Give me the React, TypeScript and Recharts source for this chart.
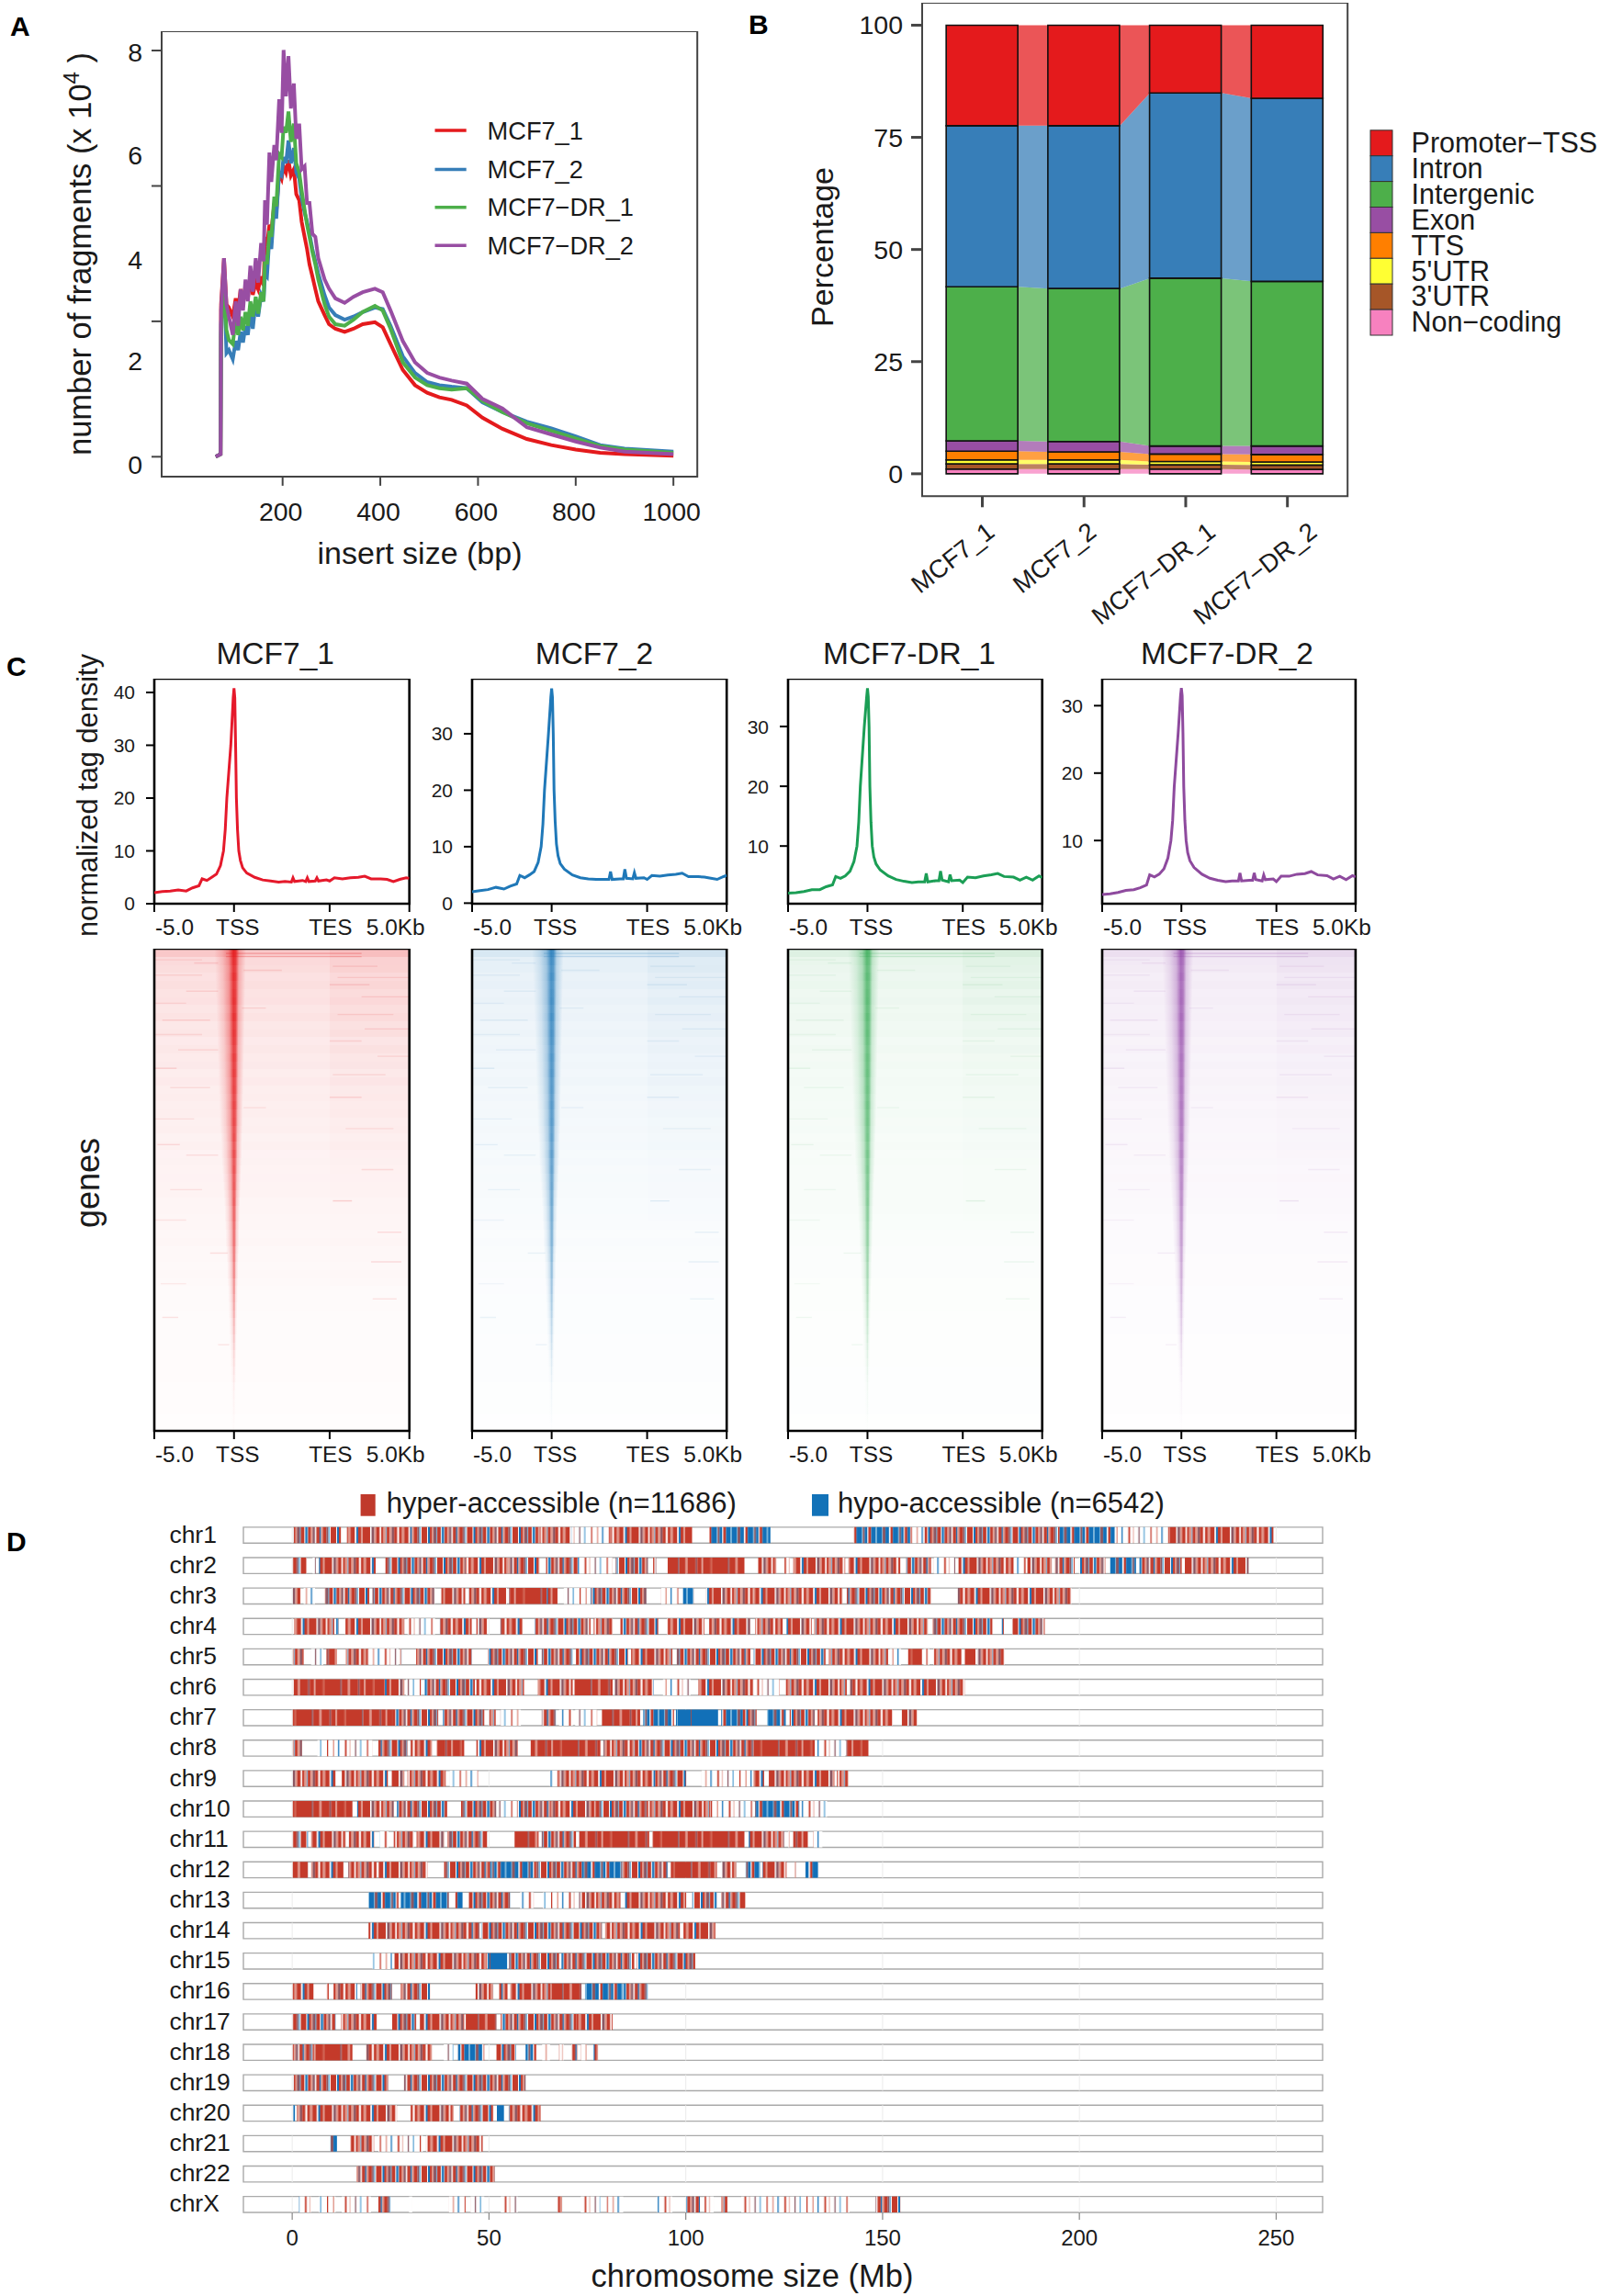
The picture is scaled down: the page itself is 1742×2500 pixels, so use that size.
import React from 'react';
import { ComposedChart, Line, Bar, Area, XAxis, YAxis, ReferenceArea } from 'recharts';

const FONT = '"Liberation Sans", Arial, Helvetica, sans-serif';
const INK = '#1a1a1a';

/* ---------- Panel A ---------- */
const insertSize = [63,73,74,80,85,90,98,104,109,114,119,124,129,134,139,145,150,156,161,164,168,173,177,183,187,193,198,202,207,212,217,223,228,234,239,245,250,255,261,267,273,286,295,308,327,345,364,389,405,421,446,471,496,521,546,577,609,650,700,750,800,850,900,1000];
const fragRed = [0,0.05,3.0,3.91,3.0,2.94,2.76,3.12,2.88,3.3,3.0,3.37,3.12,3.55,3.19,3.43,3.3,3.55,3.37,4.33,4.15,4.57,4.45,4.99,4.81,5.6,5.48,5.72,5.6,5.84,5.54,5.66,5.17,5.05,4.63,4.33,4.09,3.79,3.55,3.3,3.06,2.79,2.61,2.52,2.46,2.52,2.61,2.65,2.55,2.22,1.71,1.41,1.26,1.17,1.12,1.01,0.77,0.55,0.35,0.23,0.14,0.08,0.05,0.02];
const fragBlue = [0,0.05,2.6,3.6,2.04,2.1,1.92,2.28,2.1,2.46,2.25,2.58,2.4,2.88,2.52,3.06,2.76,3.18,3.06,3.6,3.55,4.33,4.09,4.93,4.69,5.6,5.54,5.9,5.78,6.23,5.78,6.08,5.6,5.48,5.1,4.81,4.63,4.39,4.09,3.85,3.61,3.18,2.94,2.79,2.7,2.76,2.85,2.94,2.91,2.58,1.98,1.65,1.47,1.41,1.38,1.35,1.07,0.88,0.69,0.56,0.4,0.23,0.16,0.1];
const fragGreen = [0,0.05,2.4,3.5,2.5,2.3,2.22,2.7,2.4,2.76,2.49,2.85,2.58,3.06,2.76,3.15,2.82,3.24,3.06,3.97,3.79,4.45,4.33,5.12,4.93,5.96,5.9,6.5,6.38,6.8,6.2,6.56,5.78,5.6,5.24,4.87,4.57,4.33,4.03,3.79,3.49,3.0,2.76,2.61,2.58,2.7,2.85,2.97,2.88,2.52,1.86,1.56,1.41,1.35,1.32,1.35,1.1,0.88,0.66,0.51,0.36,0.21,0.14,0.08];
const fragPurple = [0,0.05,2.88,3.91,3.0,2.76,2.4,3.06,2.58,3.3,2.88,3.49,3.06,3.76,3.25,3.91,3.43,4.21,3.85,5.05,4.57,5.99,5.41,6.14,5.84,7.04,6.38,8.01,7.1,7.89,6.86,7.35,6.26,6.56,5.66,5.72,5.0,5.0,4.39,4.33,3.91,3.49,3.31,3.12,3.03,3.15,3.24,3.31,3.24,2.88,2.28,1.86,1.65,1.56,1.5,1.44,1.14,0.95,0.58,0.44,0.3,0.18,0.1,0.05];
const sampleNames = ['MCF7_1', 'MCF7_2', 'MCF7\u2212DR_1', 'MCF7\u2212DR_2'];
const set1Colors = ['#E41A1C', '#377EB8', '#4DAF4A', '#984EA3'];
const fragSeries = [fragRed, fragBlue, fragGreen, fragPurple];
const fragRows = insertSize.map((bp, i) => ({ bp, s0: fragRed[i], s1: fragBlue[i], s2: fragGreen[i], s3: fragPurple[i] }));
const fragTickMarks = [0, 2.667, 5.333, 8];
const fragTickLabels: Record<string, string> = { '-0.15': '0', '1.88': '2', '3.87': '4', '5.94': '6', '7.97': '8' };

/* ---------- Panel B ---------- */
const regionNames = ['Promoter\u2212TSS', 'Intron', 'Intergenic', 'Exon', 'TTS', "5'UTR", "3'UTR", 'Non\u2212coding'];
const regionColors = ['#E41A1C', '#377EB8', '#4DAF4A', '#984EA3', '#FF7F00', '#FFFF33', '#A65628', '#F781BF'];
const promoter = [22.4, 22.4, 15.1, 16.3];
const intron = [35.9, 36.3, 41.3, 40.8];
const intergenic = [34.35, 34.1, 37.4, 36.7];
const exon = [2.3, 2.3, 1.8, 1.9];
const tts = [1.95, 1.8, 1.65, 1.65];
const utr5 = [0.9, 0.9, 0.75, 0.7];
const utr3 = [1.14, 1.14, 0.94, 0.98];
const nonCoding = [1.06, 1.06, 1.06, 0.97];
const regionValues = [promoter, intron, intergenic, exon, tts, utr5, utr3, nonCoding];
const BAR_HALF = 0.3528;
const ribbonRows: any[] = [];
sampleNames.forEach((_, s) => {
  [-BAR_HALF, BAR_HALF].forEach((d) => {
    const row: any = { pos: s + 1 + d };
    regionValues.forEach((vals, r) => { row['a' + r] = vals[s]; });
    ribbonRows.push(row);
  });
});
const barRows = sampleNames.map((sample, s) => {
  const row: any = { sample };
  regionValues.forEach((vals, r) => { row['b' + r] = vals[s]; });
  return row;
});

/* ---------- Panel C ---------- */
const kb = [-5,-4.5,-4,-3.5,-3,-2.6,-2.2,-2,-1.7,-1.4,-1.1,-0.85,-0.66,-0.55,-0.45,-0.2,-0.05,0,0.05,0.1,0.15,0.22,0.3,0.4,0.54,0.8,1.3,1.8,2.3,2.8,3.2,3.6,3.7,3.8,4.3,4.5,4.6,4.7,5.1,5.2,5.3,5.8,6,6.3,6.8,7.3,7.8,8.2,8.6,9.2,9.6,10,10.4,10.8,11];
const densityRed = [2.1,2.3,2.4,2.6,2.4,3.0,3.4,4.7,4.4,5.0,5.6,7.2,10,14,20,30,39,40.8,39,30,20,14,10,8.2,6.8,5.8,5.0,4.5,4.3,4.1,4.2,4.1,4.9,4.2,4.4,4.2,4.9,4.2,4.3,4.9,4.3,4.5,4.3,4.9,4.7,4.9,5,5.2,4.7,4.7,4.6,4.2,4.6,4.9,4.8];
const densityBlue = [2.0,2.2,2.4,2.8,2.5,3.0,3.4,4.9,4.5,5.0,5.6,7.2,10,14,20,30,36.5,38,36.5,30,20,14.5,10.5,8.4,7,6,5,4.5,4.3,4.2,4.2,4.2,5.6,4.2,4.3,4.3,6.0,4.4,4.3,5.4,4.4,4.5,4.2,4.9,4.8,5.0,5.1,5.3,4.7,4.7,4.6,4.4,4.2,4.7,4.9];
const densityGreen = [2.1,2.2,2.4,2.7,2.7,3.2,3.5,4.9,4.6,5.0,5.8,7.4,10,14,20,30,35,36.4,35,30,20,14,10,8.2,7,6,5,4.4,4.1,3.9,4.0,4.0,5.4,4.0,4.2,4.2,5.8,4.3,4.0,5.2,4.2,4.3,3.9,4.8,4.7,5.0,5.2,5.4,4.9,4.8,4.3,4.8,4.3,5.0,4.7];
const densityPurple = [2.0,2.1,2.3,2.6,2.7,3.0,3.4,4.9,4.6,5.0,5.8,7.4,10,13,18,26,31.5,32.6,31.5,26,18,13,10,8.2,7,6,5,4.4,4.1,3.9,4.0,4.0,5.2,4.0,4.1,4.1,5.2,4.2,4.0,4.9,4.2,4.3,3.9,4.7,4.7,5.0,5.1,5.4,4.9,4.8,4.3,4.7,4.2,4.8,4.6];
const kbTicks = [-5, 0, 6, 11];
const kbTickLabels: Record<string, string> = { '-5': '-5.0', '0': 'TSS', '6': 'TES', '11': '5.0Kb' };
const kbTickShift: Record<string, number> = { '-5': 22, '0': 4, '6': 1, '11': -15 };
const panelTitles = ['MCF7_1', 'MCF7_2', 'MCF7-DR_1', 'MCF7-DR_2'];

const densityPanels = [
  { values: densityRed, color: '#E5192B', heat: '#E41A1C', scale: 1, bgScale: 1, left: 167.9, right: 445.6, domain: [0, 42.6], ticks: [0, 10, 20, 30, 40], titleX: 299.7 },
  { values: densityBlue, color: '#1F78B8', heat: '#1F78B8', scale: 0.92, bgScale: 0.72, left: 513.6, right: 790.8, domain: [-0.1, 39.75], ticks: [0, 10, 20, 30], titleX: 647 },
  { values: densityGreen, color: '#1B9E55', heat: '#2FA84F', scale: 0.85, bgScale: 0.66, left: 858, right: 1134.7, domain: [0.35, 38], ticks: [10, 20, 30], titleX: 990 },
  { values: densityPurple, color: '#8E4A9E', heat: '#8E3FA5', scale: 0.85, bgScale: 0.7, left: 1199.5, right: 1475.4, domain: [0.63, 34], ticks: [10, 20, 30], titleX: 1336 },
];

const heatBackground = [.24,.16,.15,.13,.14,.12,.13,.11,.12,.1,.11,.09,.1,.085,.095,.08,.09,.075,.08,.07,.075,.065,.07,.06,.065,.055,.06,.05,.055,.05,.05,.045,.045,.04,.04,.035,.038,.032,.03,.028,.03,.026,.025,.024,.022,.02,.02,.02,.018,.018,.016,.016,.014,.014,.012,.012,.01,.01,.008,.008];
const heatTesBlock = [.05,.045,.05,.04,.045,.035,.045,.035,.04,.03,.035,.025,.03,.025,.025,.02,.025,.02,.015,.015,.014,.012,.012,.01,.01,.01,.008,.008,.005,.005,.004,.004,.003,.003,.002,.002,.002,.002,.002,.002,.002,.002,.001,.001,.001,.001,.001,.001,.001,.001,0,0,0,0,0,0,0,0,0,0];
const heatTssPeak = [.95,.9,.85,.9,.85,.88,.9,.85,.9,.85,.88,.85,.8,.85,.82,.85,.8,.82,.78,.82,.78,.8,.75,.78,.72,.78,.72,.75,.7,.72,.68,.7,.65,.65,.62,.6,.6,.55,.55,.5,.5,.45,.45,.4,.38,.34,.3,.27,.24,.2,.17,.14,.12,.09,.07,.05,.04,.03,.02,.01];
const heatTssWidth = [2,1.95,1.9,1.9,1.85,1.85,1.8,1.8,1.75,1.75,1.7,1.7,1.65,1.65,1.6,1.6,1.55,1.55,1.5,1.5,1.45,1.45,1.4,1.35,1.3,1.3,1.25,1.2,1.15,1.1,1.05,1,.95,.95,.9,.85,.85,.8,.75,.7,.7,.65,.6,.6,.55,.55,.5,.5,.45,.45,.4,.4,.35,.35,.3,.3,.3,.3,.3,.3];
// thin horizontal streaks in the matrix: row, from kb, to kb, strength
const heatStreaks: [number, number, number, number][] = [
  [0.5,-0.5,8,.2],[0.9,-0.5,8,.16],[1.3,-5,-2,.07],[1.7,-2.5,-1,.09],[2.1,6.2,9,.09],[2.6,0.6,3,.08],[3.2,-5,-2,.07],[3.5,6.5,11,.08],[4.4,6,8.5,.09],[5.2,-3,-1,.08],
  [5.9,8,11,.09],[6.7,-5,-3,.07],[7.3,0.5,2,.08],[8.1,6.5,10,.08],[8.8,-4.5,-1.5,.08],[9.9,8.2,11,.09],[10.6,-5,-2,.07],[11.4,6,8,.08],[12.5,-3.5,-1,.08],[13.3,9,11,.08],
  [14.8,-5,-3.6,.1],[15.6,6.2,9.5,.07],[17.2,-4,-1.5,.07],[18.4,6,8,.09],[19.7,0.6,2,.07],[21.1,-5,-2.5,.07],[22.3,7,10,.07],[24.3,-4.8,-3.4,.09],[25.6,-3,-1,.07],[27.4,8,10,.08],
  [29.9,-4,-2,.07],[31.3,6.2,7.4,.13],[33.7,-5,-3,.06],[35.2,9,10.5,.09],[37.8,-1.5,-0.4,.08],[38.9,8.6,10.5,.09],[41.6,-4.6,-3,.05],[43.5,8.7,10.2,.08],[45.8,-4.5,-3.5,.08],[49.2,-1,-0.3,.07],
];

/* ---------- Panel D ---------- */
type Run = [number, number, string];
const chromosomes = ['chr1','chr2','chr3','chr4','chr5','chr6','chr7','chr8','chr9','chr10','chr11','chr12','chr13','chr14','chr15','chr16','chr17','chr18','chr19','chr20','chr21','chr22','chrX'];
const chr1Runs: Run[] = [[0.4,12.4,'m'],[13.9,30,'r'],[30,44,'m'],[44,63,'m'],[63,71,'r'],[71,81,'s'],[81,101.6,'r'],[106,121.5,'b'],[142.6,157,'b'],[157,160.7,'s'],[160.7,195,'m'],[195,209,'b'],[209,223,'s'],[223,249.3,'r']];
const chr2Runs: Run[] = [[0.15,3.7,'m'],[5.2,6,'s'],[6.8,21.2,'r'],[23.7,34.8,'m'],[34.8,44.1,'m'],[44.1,55,'r'],[55,62.8,'m'],[64.5,72.5,'m'],[72.5,81.4,'s'],[82.2,90.4,'m'],[91.7,92.5,'r'],[95.4,114.9,'R'],[118.4,123,'r'],[125,126.5,'s'],[127.3,140.5,'r'],[141.3,154.5,'r'],[156,162.3,'m'],[163,168.5,'s'],[169.3,183.3,'r'],[183.3,186.4,'s'],[186.8,193,'r'],[193.8,198.8,'m'],[200,206.6,'m'],[207.8,214.4,'b'],[215.2,226,'m'],[226.8,243,'r']];
const chr3Runs: Run[] = [[0.15,2.1,'r'],[2.9,5.8,'s'],[8.3,19.6,'m'],[20.4,36.3,'m'],[37.9,44,'r'],[44.9,54.6,'r'],[55.1,64.7,'R'],[64.7,67.4,'r'],[69,76,'s'],[76,90,'m'],[93.7,98.1,'s'],[99.3,102,'b'],[105.1,117.2,'r'],[117.2,139.8,'r'],[140.9,162.3,'m'],[169.1,198,'r']];
const chr4Runs: Run[] = [[0.5,10.7,'r'],[11.2,11.8,'b'],[13.4,28.5,'r'],[29.3,36.3,'s'],[37.5,45.6,'r'],[46.8,49.5,'r'],[52.9,58.5,'r'],[61.6,75.8,'m'],[76.6,81.4,'r'],[83.4,93,'m'],[95.2,104.7,'r'],[105.9,116.4,'r'],[117.6,124.6,'r'],[125.6,132,'r'],[132.6,161.5,'r'],[162.7,177.9,'m'],[180.3,180.8,'r'],[182.9,191.2,'m']];
const chr5Runs: Run[] = [[0.15,2.9,'r'],[4.8,7.9,'s'],[8.7,11.4,'R'],[13.6,19.2,'r'],[19.2,27,'s'],[27.4,27.8,'r'],[31.5,45.6,'m'],[49.7,62.4,'m'],[63.4,71.3,'m'],[72.1,85.3,'m'],[86.1,96.6,'r'],[97.7,116.4,'m'],[117.2,135.5,'m'],[136.3,151.4,'r'],[151.8,154.7,'s'],[156.5,160,'R'],[160.4,161.9,'s'],[162.9,170.1,'r'],[170.9,173.6,'R'],[174,181,'r']];
const chr6Runs: Run[] = [[0.4,23.5,'R'],[23.5,28.5,'r'],[28.9,32.8,'s'],[33.6,46.4,'m'],[46.8,58.9,'r'],[62.4,71.3,'r'],[71.7,81.4,'R'],[81.8,91.9,'r'],[94.2,101.2,'s'],[103.2,117.2,'r'],[117.2,123.8,'s'],[125.4,140.9,'r'],[141.7,159.6,'r'],[160,170.9,'r']];
const chr7Runs: Run[] = [[0.15,25.4,'R'],[25.4,37.1,'m'],[38.3,48.8,'m'],[50.1,51.7,'r'],[52.9,58.1,'s'],[63.4,67,'m'],[67.8,71.3,'s'],[71.9,77.5,'s'],[78.7,88.4,'R'],[89.2,97,'b'],[97.5,108.2,'B'],[109,114.5,'b'],[114.5,118,'m'],[120.7,125.4,'b'],[126.4,132.8,'m'],[133.5,152.6,'r'],[154.9,158.8,'r']];
const chr8Runs: Run[] = [[0.15,2.5,'r'],[6.4,20.4,'s'],[21.9,29.3,'m'],[30.1,35.5,'r'],[36.7,43.7,'R'],[46.8,57.3,'r'],[60.6,78.3,'R'],[79.1,86.9,'r'],[86.9,117.2,'m'],[117.2,132.8,'R'],[132.8,140.5,'s'],[140.8,146.4,'R']];
const chr9Runs: Run[] = [[0.15,11,'r'],[12.6,24.3,'r'],[25.3,28.5,'r'],[29.3,39,'r'],[40,47.2,'s'],[65.5,67.8,'s'],[67.8,92.3,'r'],[92.3,100.1,'m'],[104,117.2,'s'],[117.2,119.9,'r'],[121.1,137.8,'r'],[138.4,141.3,'r']];
const chr10Runs: Run[] = [[0.15,15.3,'R'],[16.5,25.8,'r'],[26.6,39.4,'m'],[42.9,51.9,'m'],[51.9,57.3,'s'],[57.3,65.9,'m'],[65.9,76.8,'r'],[76.8,90,'m'],[90,106.3,'r'],[106.3,117.2,'s'],[117.6,128.9,'b'],[128.9,135.9,'s']];
const chr11Runs: Run[] = [[0.15,4,'m'],[4.8,13.6,'r'],[14.4,20.8,'r'],[22.2,24.5,'s'],[25.8,30.9,'r'],[31.6,38.6,'r'],[39.4,49.5,'m'],[56.5,62.6,'R'],[63.4,72.1,'m'],[72.9,90.7,'R'],[91.5,114.9,'R'],[116,125,'r'],[126,126.5,'s'],[127.3,131,'R'],[132.4,134.7,'s']];
const chr12Runs: Run[] = [[0.15,4,'R'],[4.8,13,'r'],[14.2,21.5,'r'],[21.9,34.4,'r'],[38.6,50.3,'m'],[50.3,62,'b'],[62,73.6,'m'],[73.6,83.7,'b'],[83.7,95.4,'m'],[96.2,107.9,'R'],[109,112.9,'r'],[115.2,118.9,'b'],[119.5,125.6,'r'],[127.7,128,'r'],[130.4,133.7,'b']];
const chr13Runs: Run[] = [[19.4,27,'b'],[27.6,39.8,'b'],[41.4,43.3,'b'],[44.9,55.4,'m'],[57.9,61.4,'s'],[63.7,73.6,'s'],[73.6,83.4,'r'],[84.5,100.1,'r'],[101.6,107.9,'m'],[109,115.2,'m']];
const chr14Runs: Run[] = [[19.4,44.5,'r'],[44.5,47.6,'m'],[48,78.7,'m'],[79.5,98.5,'r'],[99.3,107.5,'r']];
const chr15Runs: Run[] = [[20.4,25.4,'s'],[26,49.5,'r'],[49.7,54.6,'B'],[55.1,67.8,'m'],[68.4,86.9,'m'],[87.6,102.4,'m']];
const chr16Runs: Run[] = [[0.15,5.4,'r'],[8.7,9.3,'r'],[10.5,16.5,'r'],[17.3,25.4,'m'],[27.6,35,'m'],[46.6,51.1,'r'],[52.6,54.7,'m'],[55.4,65.9,'r'],[65.9,73.5,'R'],[74.4,84.1,'b'],[84.1,90.4,'m']];
const chr17Runs: Run[] = [[0.15,11,'m'],[12.4,21.5,'r'],[25.4,31.5,'m'],[32.4,43.7,'r'],[44.1,51.9,'R'],[53,72.1,'m'],[72.1,81.4,'r']];
const chr18Runs: Run[] = [[0.15,5.2,'m'],[5.2,15.3,'R'],[18.8,35.5,'r'],[38.5,41,'s'],[42.1,48.8,'b'],[51.9,56.9,'m'],[59.3,62,'b'],[63.5,65.5,'s'],[67.8,69,'s'],[70.9,72.5,'m'],[73.3,74.8,'s'],[76.6,77.7,'m']];
const chr19Runs: Run[] = [[0.4,24.4,'m'],[28.4,59.3,'m']];
const chr20Runs: Run[] = [[0.3,0.7,'b'],[1.2,26.6,'r'],[30.1,41,'r'],[42.5,51.1,'m'],[52,53.8,'B'],[55,63.1,'r']];
const chr21Runs: Run[] = [[9.7,11.4,'b'],[14.8,20.8,'r'],[21.9,33.2,'s'],[34,48.4,'r']];
const chr22Runs: Run[] = [[16.3,48.4,'m'],[48.4,51.5,'m']];
const chrXRuns: Run[] = [[1.7,4.8,'s'],[6.8,11,'s'],[12.6,20,'s'],[21.9,25,'m'],[29.7,30.5,'s'],[39.8,44.1,'s'],[45.3,48.8,'s'],[53,57.3,'s'],[67.4,68.6,'r'],[73.3,78.3,'s'],[79.9,84.1,'s'],[92.7,96.6,'s'],[100.1,103.6,'m'],[104.7,107.1,'s'],[109,110.6,'r'],[114.1,141.6,'s'],[148.2,154.5,'m']];
const allRuns = [chr1Runs,chr2Runs,chr3Runs,chr4Runs,chr5Runs,chr6Runs,chr7Runs,chr8Runs,chr9Runs,chr10Runs,chr11Runs,chr12Runs,chr13Runs,chr14Runs,chr15Runs,chr16Runs,chr17Runs,chr18Runs,chr19Runs,chr20Runs,chr21Runs,chr22Runs,chrXRuns];
const chrEdge = [-12.4, 261.8];
const mbTicks = [0, 50, 100, 150, 200, 250];
const rowIndex = chromosomes.map((_, i) => i + 1);

const C = '#C43A2A', D = '#8A5560', P = '#E0988C', W = '#FFFFFF', B = '#1270B8', L = '#6FAFD8';
const stripePatterns: Record<string, [number, string][]> = {
  R: [[11,C],[1.5,D],[7,C],[2,P],[9,C],[1.5,D],[5,C],[1.5,P],[8,C],[2,'#D0604F'],[6,C]],
  r: [[4,C],[1.5,W],[3,D],[2,P],[4,C],[1.5,W],[2.5,C],[2.5,P],[1,L],[3,C],[2.5,P],[2.5,D],[3.5,C],[2,W],[3,C],[2.5,P],[5,C],[1.5,W],[2,B],[3,C],[2,P],[4,C]],
  m: [[3,C],[1,W],[2,B],[2.5,C],[1.5,P],[3,D],[1,L],[4,C],[1,W],[2,B],[1,L],[3,C],[2,P],[2.5,D],[1.5,W],[3.5,C],[1.5,B],[2,P],[4,C],[2,D],[1.5,L],[1,W],[3,C]],
  b: [[5,B],[1,L],[3,D],[4,B],[1.5,W],[2.5,C],[6,B],[1,L],[2,D],[3,B],[1,W],[3,C],[5,B],[1.5,L]],
  B: [[22,B],[1,L],[14,B],[1,D],[12,B]],
  s: [[1.5,C],[5,W],[1.5,P],[4,W],[1.5,B],[6,W],[2,C],[3,W],[1,P],[5,W],[1.5,D],[4,W],[1.5,L],[6,W]],
};
const patternShifts = [0, 17, 31];

/* ---------- helpers ---------- */
function place(l: number, t: number, r: number, b: number, pl: number, pt: number, pr: number, pb: number) {
  return { left: l - pl, top: t - pt, width: r - l + pl + pr, height: b - t + pt + pb, pl, pb, pt, pr };
}

function ChartAt({ p, data, children }: any) {
  return (
    <div style={{ position: 'absolute', left: p.left, top: p.top, width: p.width, height: p.height }}>
      <ComposedChart width={p.width} height={p.height} data={data} margin={{ top: p.pt, right: p.pr, bottom: 0, left: 0 }}>
        {children}
      </ComposedChart>
    </div>
  );
}

function Txt({ x, y, size, anchor = 'start', rotate, weight, children, fill = INK }: any) {
  return (
    <text x={x} y={y} fontSize={size} textAnchor={anchor} fontFamily={FONT} fontWeight={weight} fill={fill}
      transform={rotate ? `rotate(${rotate} ${x} ${y})` : undefined}>{children}</text>
  );
}

const bareAxis = { axisLine: false, tickLine: false, tickSize: 0, tickMargin: 0, interval: 0 as const };

function renderFragY(p: any) {
  const v = p.payload.value;
  const label = fragTickLabels[String(v)];
  return (
    <g>
      {fragTickMarks.includes(v) && <line x1={p.x} x2={p.x - 11} y1={p.y} y2={p.y} stroke="#444" strokeWidth={2} />}
      {label && <Txt x={p.x - 21} y={p.y + 10} size={28.5} anchor="end">{label}</Txt>}
    </g>
  );
}
function renderFragX(p: any) {
  return (
    <g>
      <line x1={p.x} x2={p.x} y1={p.y} y2={p.y + 10} stroke="#444" strokeWidth={2} />
      <Txt x={p.x - 2} y={p.y + 48} size={28.5} anchor="middle">{p.payload.value}</Txt>
    </g>
  );
}
function renderPctY(p: any) {
  return (
    <g>
      <line x1={p.x} x2={p.x - 12} y1={p.y} y2={p.y} stroke="#444" strokeWidth={3} />
      <Txt x={p.x - 21} y={p.y + 10} size={28.5} anchor="end">{p.payload.value}</Txt>
    </g>
  );
}
function renderPctX(p: any) {
  const long = String(p.payload.value).includes('DR');
  return (
    <g>
      <line x1={p.x} x2={p.x} y1={p.y} y2={p.y + 12} stroke="#444" strokeWidth={3} />
      <Txt x={p.x + (long ? 34 : 15)} y={p.y + 42} size={27.5} anchor="end" rotate={-38}>{p.payload.value}</Txt>
    </g>
  );
}
function renderKbX(p: any, baseline: number) {
  const v = p.payload.value;
  return (
    <g>
      <line x1={p.x} x2={p.x} y1={p.y} y2={p.y + 9} stroke="#000" strokeWidth={2} />
      <Txt x={p.x + kbTickShift[String(v)]} y={p.y + baseline} size={24.4} anchor="middle">{kbTickLabels[String(v)]}</Txt>
    </g>
  );
}
function renderDensY(p: any) {
  return (
    <g>
      <line x1={p.x} x2={p.x - 9} y1={p.y} y2={p.y} stroke="#000" strokeWidth={2} />
      <Txt x={p.x - 21} y={p.y + 7.5} size={21} anchor="end">{p.payload.value}</Txt>
    </g>
  );
}
function renderChrY(p: any) {
  return <Txt x={19.4} y={p.y + 8} size={26.5} anchor="start">{chromosomes[p.payload.value - 1]}</Txt>;
}
function renderMbX(p: any) {
  return (
    <g>
      <line x1={p.x} x2={p.x} y1={p.y - 8} y2={p.y} stroke="#888" strokeWidth={1.2} />
      <Txt x={p.x} y={p.y + 28} size={24} anchor="middle">{p.payload.value}</Txt>
    </g>
  );
}

/* ---------- panels ---------- */
function PanelA() {
  const p = place(176, 34.3, 759.2, 519.2, 110, 0, 10, 70);
  return (
    <ChartAt p={p} data={fragRows}>
      <XAxis dataKey="bp" type="number" domain={[-47.6, 1048.9]} allowDataOverflow ticks={[200, 400, 600, 800, 1000]} height={70} {...bareAxis} tick={renderFragX} />
      <YAxis type="number" domain={[-0.39, 8.38]} allowDataOverflow ticks={[-0.15, 0, 1.88, 2.667, 3.87, 5.333, 5.94, 7.97, 8]} width={110} {...bareAxis} tick={renderFragY} />
      {fragSeries.map((_, i) => (
        <Line key={i} dataKey={'s' + i} type="linear" stroke={set1Colors[i]} strokeWidth={4} dot={false} isAnimationActive={false} />
      ))}
      <ReferenceArea x1={-47.6} x2={1048.9} y1={-0.39} y2={8.38} fill="none" stroke="#444" strokeWidth={2} />
    </ChartAt>
  );
}

function PanelB() {
  const p = place(1003.7, 2.6, 1466.9, 539.9, 103, 0, 10, 150);
  const order = [7, 6, 5, 4, 3, 2, 1, 0];
  return (
    <>
      <ChartAt p={p} data={ribbonRows}>
        <XAxis dataKey="pos" type="number" domain={[0.408, 4.59]} allowDataOverflow ticks={[1, 2, 3, 4]} height={150} {...bareAxis} tick={false} />
        <YAxis type="number" domain={[-5, 105]} allowDataOverflow ticks={[0, 25, 50, 75, 100]} width={103} {...bareAxis} tick={false} />
        {order.map((r) => (
          <Area key={'a' + r} dataKey={'a' + r} stackId="ribbon" type="linear" stroke="none" fill={regionColors[r]} fillOpacity={0.74} isAnimationActive={false} />
        ))}
        <ReferenceArea x1={0.408} x2={4.59} y1={-5} y2={105} fill="none" stroke="#444" strokeWidth={2} />
      </ChartAt>
      <ChartAt p={p} data={barRows}>
        <XAxis dataKey="sample" type="category" padding={{ left: 10.15, right: 10.15 }} height={150} {...bareAxis} tick={renderPctX} />
        <YAxis type="number" domain={[-5, 105]} allowDataOverflow ticks={[0, 25, 50, 75, 100]} width={103} {...bareAxis} tick={renderPctY} />
        {order.map((r) => (
          <Bar key={'b' + r} dataKey={'b' + r} stackId="bar" barSize={78} fill={regionColors[r]} stroke="#111" strokeWidth={1.6} isAnimationActive={false} />
        ))}
      </ChartAt>
    </>
  );
}

function DensityPanel({ cfg }: any) {
  const p = place(cfg.left, 739, cfg.right, 984, 60, 0, 40, 60);
  const rows = kb.map((x, i) => ({ x, y: cfg.values[i] }));
  return (
    <ChartAt p={p} data={rows}>
      <XAxis dataKey="x" type="number" domain={[-5, 11]} allowDataOverflow ticks={kbTicks} height={60} {...bareAxis} tick={(t: any) => renderKbX(t, 34)} />
      <YAxis type="number" domain={cfg.domain} allowDataOverflow ticks={cfg.ticks} width={60} {...bareAxis} tick={renderDensY} />
      <Line dataKey="y" type="linear" stroke={cfg.color} strokeWidth={3} dot={false} isAnimationActive={false} />
      <ReferenceArea x1={-5} x2={11} y1={cfg.domain[0]} y2={cfg.domain[1]} fill="none" stroke="#000" strokeWidth={2.6} />
    </ChartAt>
  );
}

function HeatPanel({ cfg, index }: any) {
  const p = place(cfg.left, 1033, cfg.right, 1558, 20, 0, 40, 60);
  const rows = heatBackground.map((bg, i) => ({ i, bg, tes: heatTesBlock[i], peak: heatTssPeak[i], w: heatTssWidth[i] }));
  return (
    <ChartAt p={p} data={rows}>
      <XAxis type="number" dataKey="i" xAxisId="kb" domain={[-5, 11]} allowDataOverflow ticks={kbTicks} height={60} {...bareAxis} tick={(t: any) => renderKbX(t, 34)} />
      <YAxis type="number" yAxisId="row" domain={[0, 60]} reversed allowDataOverflow width={20} {...bareAxis} tick={false} />
      {rows.map((r) => (
        <ReferenceArea key={'bg' + r.i} xAxisId="kb" yAxisId="row" x1={-5} x2={11} y1={r.i} y2={r.i + 1} fill={cfg.heat} fillOpacity={r.bg * cfg.bgScale} stroke="none" shapeRendering="crispEdges" />
      ))}
      {rows.filter((r) => r.tes > 0).map((r) => (
        <ReferenceArea key={'te' + r.i} xAxisId="kb" yAxisId="row" x1={6} x2={11} y1={r.i} y2={r.i + 1} fill={cfg.heat} fillOpacity={r.tes * cfg.bgScale} stroke="none" shapeRendering="crispEdges" />
      ))}
      {heatStreaks.map((s, i) => (
        <ReferenceArea key={'st' + i} xAxisId="kb" yAxisId="row" x1={s[1]} x2={s[2]} y1={s[0]} y2={s[0] + 0.16} fill={cfg.heat} fillOpacity={s[3] * 1.4 * cfg.bgScale} stroke="none" />
      ))}
      {rows.map((r) => (
        <ReferenceArea key={'ts' + r.i} xAxisId="kb" yAxisId="row" x1={-0.62 * r.w} x2={0.38 * r.w} y1={r.i} y2={r.i + 1} fill={`url(#tss${index})`} fillOpacity={r.peak * cfg.scale} stroke="none" shapeRendering="crispEdges" />
      ))}
      <ReferenceArea xAxisId="kb" yAxisId="row" x1={-5} x2={11} y1={0} y2={60} fill="none" stroke="#000" strokeWidth={2.6} />
    </ChartAt>
  );
}

function PanelD() {
  const p = place(264.6, 1655.4, 1439.6, 2417.3, 100, 0, 20, 60);
  const half = 0.2625;
  return (
    <ChartAt p={p} data={rowIndex.map((row) => ({ row }))}>
      <XAxis type="number" dataKey="row" xAxisId="mb" domain={chrEdge} allowDataOverflow ticks={mbTicks} height={60} {...bareAxis} tick={renderMbX} />
      <YAxis type="number" yAxisId="chr" domain={[0.5, 23.5]} reversed allowDataOverflow ticks={rowIndex} width={100} {...bareAxis} tick={renderChrY} />
      {rowIndex.map((row) => (
        <ReferenceArea key={'t' + row} xAxisId="mb" yAxisId="chr" x1={chrEdge[0]} x2={chrEdge[1]} y1={row - half} y2={row + half} fill="#fff" fillOpacity={1} stroke="#aaa" strokeWidth={1.4} />
      ))}
      {rowIndex.map((row) => mbTicks.map((m) => (
        <ReferenceArea key={'g' + row + '-' + m} xAxisId="mb" yAxisId="chr" x1={m - 0.12} x2={m + 0.12} y1={row - half} y2={row + half} fill="#ececec" fillOpacity={1} stroke="none" />
      )))}
      {allRuns.map((runs, idx) => runs.map((run, j) => (
        <ReferenceArea key={'r' + idx + '-' + j} xAxisId="mb" yAxisId="chr" x1={run[0]} x2={run[1]} y1={idx + 1 - half} y2={idx + 1 + half} fill={`url(#p${run[2]}${idx % 3})`} fillOpacity={1} stroke="none" />
      )))}
    </ChartAt>
  );
}

function GlobalDefs() {
  return (
    <svg width={0} height={0} style={{ position: 'absolute' }}>
      <defs>
        {densityPanels.map((cfg, i) => (
          <linearGradient key={i} id={`tss${i}`} x1="0" x2="1" y1="0" y2="0">
            <stop offset="0" stopColor={cfg.heat} stopOpacity={0} />
            <stop offset="0.25" stopColor={cfg.heat} stopOpacity={0.18} />
            <stop offset="0.45" stopColor={cfg.heat} stopOpacity={0.45} />
            <stop offset="0.6" stopColor={cfg.heat} stopOpacity={1} />
            <stop offset="0.68" stopColor={cfg.heat} stopOpacity={0.9} />
            <stop offset="0.78" stopColor={cfg.heat} stopOpacity={0.3} />
            <stop offset="1" stopColor={cfg.heat} stopOpacity={0} />
          </linearGradient>
        ))}
        {Object.keys(stripePatterns).map((k) =>
          patternShifts.map((shift, v) => {
            const stripes = stripePatterns[k];
            const total = stripes.reduce((a, s) => a + s[0], 0);
            let cx = 0;
            return (
              <pattern key={k + v} id={`p${k}${v}`} patternUnits="userSpaceOnUse" width={total} height={30} patternTransform={`translate(${shift} 0)`}>
                {stripes.map((s, i) => {
                  const el = <rect key={i} x={cx} y={0} width={s[0]} height={30} fill={s[1]} />;
                  cx += s[0];
                  return el;
                })}
              </pattern>
            );
          })
        )}
      </defs>
    </svg>
  );
}

function Overlay() {
  const fragLegendY = [142, 184.5, 225.7, 267.3];
  return (
    <svg width={1742} height={2500} style={{ position: 'absolute', left: 0, top: 0, pointerEvents: 'none' }}>
      <Txt x={11} y={39} size={30} weight="bold" fill="#000">A</Txt>
      <Txt x={815} y={37} size={30} weight="bold" fill="#000">B</Txt>
      <Txt x={7} y={736} size={30} weight="bold" fill="#000">C</Txt>
      <Txt x={7} y={1689} size={30} weight="bold" fill="#000">D</Txt>

      <Txt x={457} y={614} size={34} anchor="middle">insert size (bp)</Txt>
      <text x={99} y={276.5} fontSize={34.5} fontFamily={FONT} fill={INK} textAnchor="middle" transform="rotate(-90 99 276.5)">
        number of fragments (x 10<tspan dy={-13} fontSize={24}>4</tspan><tspan dy={13}> )</tspan>
      </text>
      {sampleNames.map((name, i) => (
        <g key={name}>
          <line x1={473.5} x2={507.7} y1={fragLegendY[i]} y2={fragLegendY[i]} stroke={set1Colors[i]} strokeWidth={3.6} />
          <Txt x={530.6} y={fragLegendY[i] + 9.5} size={27.2}>{name}</Txt>
        </g>
      ))}

      <Txt x={907} y={269} size={34} anchor="middle" rotate={-90}>Percentage</Txt>
      {regionNames.map((name, i) => (
        <g key={name}>
          <rect x={1492} y={141.8 + i * 27.9} width={24} height={27.9} fill={regionColors[i]} stroke="#333" strokeWidth={1} />
          <Txt x={1536.6} y={166 + i * 27.9} size={30.5}>{name}</Txt>
        </g>
      ))}

      <Txt x={106} y={866} size={30.8} anchor="middle" rotate={-90}>normalized tag density</Txt>
      {densityPanels.map((cfg, i) => (
        <Txt key={i} x={cfg.titleX} y={723} size={33.5} anchor="middle">{panelTitles[i]}</Txt>
      ))}
      <Txt x={108} y={1288} size={36} anchor="middle" rotate={-90}>genes</Txt>

      <rect x={392.6} y={1627} width={16.1} height={23.7} fill="#C0392B" />
      <Txt x={420.8} y={1647} size={31}>hyper-accessible (n=11686)</Txt>
      <rect x={884} y={1627} width={18} height={23.7} fill="#1272B8" />
      <Txt x={912} y={1647} size={31}>hypo-accessible (n=6542)</Txt>
      <Txt x={819} y={2490} size={34.5} anchor="middle">chromosome size (Mb)</Txt>
    </svg>
  );
}

export default function App() {
  return (
    <div style={{ position: 'absolute', left: 0, top: 0, width: 1742, height: 2500, background: '#fff', fontFamily: FONT, overflow: 'hidden' }}>
      <GlobalDefs />
      <PanelA />
      <PanelB />
      {densityPanels.map((cfg, i) => <DensityPanel key={i} cfg={cfg} />)}
      {densityPanels.map((cfg, i) => <HeatPanel key={i} cfg={cfg} index={i} />)}
      <PanelD />
      <Overlay />
    </div>
  );
}
